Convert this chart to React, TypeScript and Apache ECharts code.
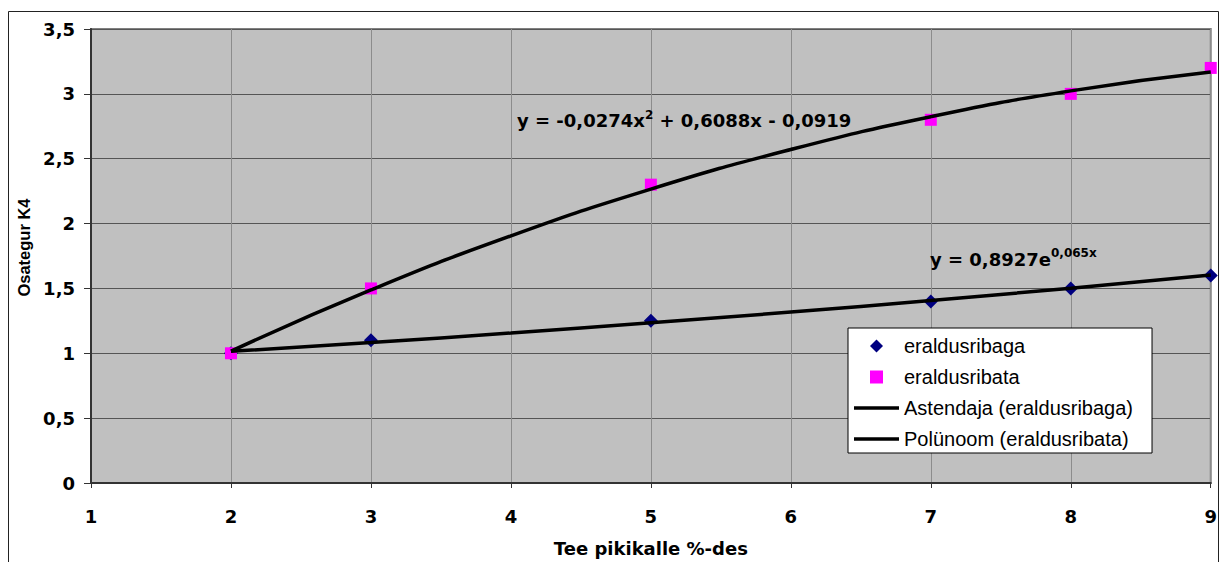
import React, { useEffect, useRef } from "react";
import * as echarts from "echarts";

const xTicks = [1, 2, 3, 4, 5, 6, 7, 8, 9];
const withBar = [
  [2, 1.0],
  [3, 1.1],
  [5, 1.25],
  [7, 1.4],
  [8, 1.5],
  [9, 1.6],
];
const withoutBar = [
  [2, 1.0],
  [3, 1.5],
  [5, 2.3],
  [7, 2.8],
  [8, 3.0],
  [9, 3.2],
];
// trendline values
const expTrend = [
  [2, 1.015],
  [3, 1.083],
  [4, 1.156],
  [5, 1.235],
  [6, 1.318],
  [7, 1.407],
  [8, 1.502],
  [9, 1.603],
];
const polyTrend = [
  [2, 1.016],
  [3, 1.488],
  [4, 1.905],
  [5, 2.266],
  [6, 2.571],
  [7, 2.824],
  [8, 3.023],
  [9, 3.168],
];
const seriesNames = [
  "eraldusribaga",
  "eraldusribata",
  "Astendaja (eraldusribaga)",
  "Polünoom (eraldusribata)",
];
const xTitle = "Tee pikikalle %-des";
const yTitle = "Osategur K4";

const BOLD = "DejaVu Sans";

// legend icons laid out inside a 45x13 box (invisible corner moves keep the box)
const ICON_DIAMOND = "path://M0,0M45,13M16,6.5L22.5,0L29,6.5L22.5,13Z";
const ICON_SQUARE = "path://M0,0M45,13M15.5,-0.5L29.5,-0.5L29.5,13.5L15.5,13.5Z";
const ICON_LINE = "path://M0,0M45,13M0,4.8L45,4.8L45,8.2L0,8.2Z";

export default function App() {
  const ref = useRef<HTMLDivElement>(null);
  useEffect(() => {
    if (!ref.current) return;
    const chart = echarts.init(ref.current, undefined, { renderer: "svg" });
    const comma = (v: number) => String(v).replace(".", ",");
    chart.setOption({
      animation: false,
      backgroundColor: "#ffffff",
      grid: {
        left: 91,
        top: 29,
        right: 8,
        bottom: 77.5,
        show: true,
        backgroundColor: "#c0c0c0",
        borderColor: "#808080",
        borderWidth: 2,
      },
      xAxis: {
        type: "value",
        min: xTicks[0],
        max: xTicks[xTicks.length - 1],
        interval: 1,
        name: xTitle,
        nameLocation: "middle",
        nameGap: 56,
        nameTextStyle: { fontFamily: BOLD, fontWeight: "bold", fontSize: 18, color: "#000" },
        axisLine: { lineStyle: { color: "#333", width: 2 } },
        axisTick: { show: true, inside: false, length: 5, lineStyle: { color: "#333" } },
        axisLabel: {
          margin: 24,
          fontFamily: BOLD,
          fontWeight: "bold",
          fontSize: 18,
          color: "#000",
          formatter: comma,
        },
        splitLine: { show: true, lineStyle: { color: "#8c8c8c", width: 1 } },
      },
      yAxis: {
        type: "value",
        min: 0,
        max: 3.5,
        interval: 0.5,
        name: yTitle,
        nameLocation: "middle",
        nameGap: 56,
        nameTextStyle: {
          fontFamily: "Liberation Sans, Arial",
          fontWeight: "bold",
          fontSize: 16.5,
          color: "#000",
          padding: [0, 0, 0, 17],
        },
        axisLine: { show: true, lineStyle: { color: "#333", width: 2 } },
        axisTick: { show: true, inside: false, length: 7, lineStyle: { color: "#333" } },
        axisLabel: {
          margin: 16,
          fontFamily: BOLD,
          fontWeight: "bold",
          fontSize: 18,
          color: "#000",
          formatter: comma,
        },
        splitLine: { show: true, lineStyle: { color: "#555555", width: 1 } },
      },
      legend: {
        orient: "vertical",
        left: 848,
        top: 328,
        backgroundColor: "#ffffff",
        borderColor: "#000",
        borderWidth: 1,
        padding: [8, 19, 4, 6],
        itemWidth: 45,
        itemHeight: 13,
        itemGap: 11,
        textStyle: {
          fontFamily: "Liberation Sans, Arial",
          fontSize: 20,
          lineHeight: 20,
          color: "#000",
        },
        data: [
          { name: seriesNames[0], icon: ICON_DIAMOND, itemStyle: { color: "#000080", opacity: 1 } },
          { name: seriesNames[1], icon: ICON_SQUARE, itemStyle: { color: "#ff00ff", opacity: 1 } },
          { name: seriesNames[2], icon: ICON_LINE, itemStyle: { color: "#000", opacity: 1 } },
          { name: seriesNames[3], icon: ICON_LINE, itemStyle: { color: "#000", opacity: 1 } },
        ],
      },
      series: [
        {
          name: seriesNames[0],
          type: "scatter",
          symbol: "diamond",
          symbolSize: 14,
          itemStyle: { color: "#000080", opacity: 1 },
          data: withBar,
          z: 2,
        },
        {
          name: seriesNames[1],
          type: "scatter",
          symbol: "rect",
          symbolSize: 12,
          itemStyle: { color: "#ff00ff", opacity: 1 },
          data: withoutBar,
          z: 2,
        },
        {
          name: seriesNames[2],
          type: "line",
          smooth: true,
          showSymbol: false,
          symbol: "none",
          lineStyle: { color: "#000", width: 3.5 },
          itemStyle: { color: "#000" },
          data: expTrend,
          z: 3,
        },
        {
          name: seriesNames[3],
          type: "line",
          smooth: true,
          showSymbol: false,
          symbol: "none",
          lineStyle: { color: "#000", width: 3.5 },
          itemStyle: { color: "#000" },
          data: polyTrend,
          z: 3,
        },
      ],
      graphic: [
        {
          type: "rect",
          shape: { x: 8.5, y: 11.5, width: 1210, height: 620 },
          style: { fill: "none", stroke: "#222", lineWidth: 1 },
          silent: true,
          z: -10,
        },
        {
          type: "text",
          x: 517,
          y: 120.5,
          style: {
            text: "{a|y = -0,0274x}{s|2}{a| + 0,6088x - 0,0919}",
            verticalAlign: "middle",
            rich: {
              a: { fontFamily: BOLD, fontWeight: "bold", fontSize: 18, lineHeight: 24, fill: "#000" },
              s: { fontFamily: BOLD, fontWeight: "bold", fontSize: 12, lineHeight: 16, verticalAlign: "top", fill: "#000" },
            },
          },
          z: 10,
        },
        {
          type: "text",
          x: 930,
          y: 259,
          style: {
            text: "{a|y = 0,8927e}{s|0,065x}",
            verticalAlign: "middle",
            rich: {
              a: { fontFamily: BOLD, fontWeight: "bold", fontSize: 18, lineHeight: 24, fill: "#000" },
              s: { fontFamily: BOLD, fontWeight: "bold", fontSize: 12, lineHeight: 8, verticalAlign: "top", fill: "#000" },
            },
          },
          z: 10,
        },
      ],
    });
    return () => chart.dispose();
  }, []);
  return (
    <div
      ref={ref}
      style={{ position: "fixed", left: 0, top: 0, width: 1220, height: 562, overflow: "hidden" }}
    />
  );
}
